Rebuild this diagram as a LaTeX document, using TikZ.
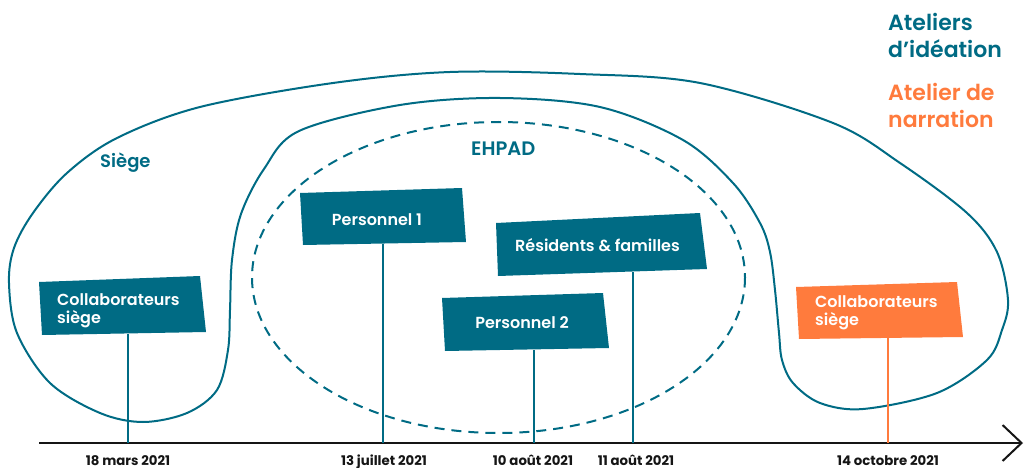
\documentclass[tikz,border=0pt]{standalone}
\usepackage{fontspec}
\setmainfont{Poppins}[UprightFont=* SemiBold, BoldFont=* Bold]
\usetikzlibrary{arrows.meta}
\definecolor{ateal}{HTML}{006B84}
\definecolor{aorange}{HTML}{FF7B3D}
\definecolor{adark}{HTML}{151515}
\begin{document}
\begin{tikzpicture}[x=1pt,y=-1pt,
  zone/.style={draw=ateal,line width=2pt},
  ehpad/.style={draw=ateal,line width=2pt,dash pattern=on 10pt off 7pt},
  flagtext/.style={text=white,inner sep=0pt,font=\fontsize{16}{18}\selectfont},
  pole/.style={draw=ateal,line width=2pt},
  opole/.style={draw=aorange,line width=2.2pt},
  datelabel/.style={text=adark,inner sep=0pt,anchor=base,font=\fontsize{13.3}{14}\selectfont\bfseries},
  zonelabel/.style={text=ateal,inner sep=0pt,anchor=base west,font=\fontsize{18}{20}\selectfont},
  legend/.style={inner sep=0pt,anchor=base west,align=left,font=\fontsize{22}{27}\selectfont},
  axis/.style={draw=adark,line width=2pt,-{Straight Barb[length=19pt,width=36pt,line width=2pt]}}]
\useasboundingbox (0,0) rectangle (1025,468);

% Siege zone (closed curve)
\draw[zone] plot[smooth cycle,tension=0.55] coordinates {
 (9,283) (14,248) (33,213) (67,173) (117,138) (200,107) (333,83) (450,72) (580,74) (700,83)
 (833,123) (900,163) (967,213) (997,252) (1008,300) (1002,330) (987,360) (937,393) (863,409)
 (820,403) (793,383) (782,360) (779,333) (775,290) (770,252) (760,223) (733,183) (683,140)
 (600,107) (500,98) (400,105) (299,131) (264,169) (241,214) (232,260) (230,310) (228,350)
 (217,390) (187,413) (143,422) (100,413) (50,383) (17,333)};

% EHPAD zone
\draw[ehpad] (498.5,277.5) ellipse [x radius=246.5, y radius=155.5];

\node[zonelabel] (siege) at (100,167) {Siège};
\node[zonelabel,font=\fontsize{19.5}{20}\selectfont] (ehpadlbl) at (471,156) {EHPAD};

% Legend (base = last line)
\node[legend,text=ateal] (leg1) at (888,58) {Ateliers\\d’idéation};
\node[legend,text=aorange] (leg2) at (888,128) {Atelier de\\narration};

% Axis
\coordinate (axL) at (39,443);
\coordinate (axR) at (1023,443);
\draw[axis] (axL) -- (axR);

% Flag 1
\fill[ateal] (39,282) -- (200,276) -- (206,332) -- (42,335) -- cycle;
\node[flagtext,align=left,anchor=west] (f1) at (57,311) {Collaborateurs\\siège};
\coordinate (f1b) at (128,334);
\coordinate (t1) at (128,443);
\draw[pole] (f1b) -- (t1);

% Flag 2
\fill[ateal] (300,193) -- (462,188) -- (466,242) -- (303,245) -- cycle;
\node[flagtext,anchor=base] (f2) at (377,225) {Personnel 1};
\coordinate (f2b) at (383,244);
\coordinate (t2) at (383,443);
\draw[pole] (f2b) -- (t2);

% Flag 3 (Residents)
\fill[ateal] (496,223) -- (700,213) -- (707,269) -- (498,276) -- cycle;
\node[flagtext,anchor=base] (f3) at (597.5,251) {Résidents \& familles};
\coordinate (f3b) at (633,272);
\coordinate (t3) at (633,443);
\draw[pole] (f3b) -- (t3);

% Flag 4 (Personnel 2)
\fill[ateal] (442,298) -- (603,293) -- (609,348) -- (445,351) -- cycle;
\node[flagtext,anchor=base] (f4) at (522,328) {Personnel 2};
\coordinate (f4b) at (534,350);
\coordinate (t4) at (534,443);
\draw[pole] (f4b) -- (t4);

% Flag 5 (orange)
\fill[aorange] (796,287) -- (957,282) -- (963,337) -- (799,339) -- cycle;
\node[flagtext,align=left,anchor=west] (f5) at (815,313) {Collaborateurs\\siège};
\coordinate (f5b) at (888,338);
\coordinate (t5) at (888,443);
\draw[opole] (f5b) -- (t5);

% Dates
\node[datelabel] (d1) at (128,465) {18 mars 2021};
\node[datelabel] (d2) at (384,465) {13 juillet 2021};
\node[datelabel] (d3) at (533,465) {10 août 2021};
\node[datelabel] (d4) at (636,465) {11 août 2021};
\node[datelabel] (d5) at (888,465) {14 octobre 2021};
\end{tikzpicture}
\end{document}
